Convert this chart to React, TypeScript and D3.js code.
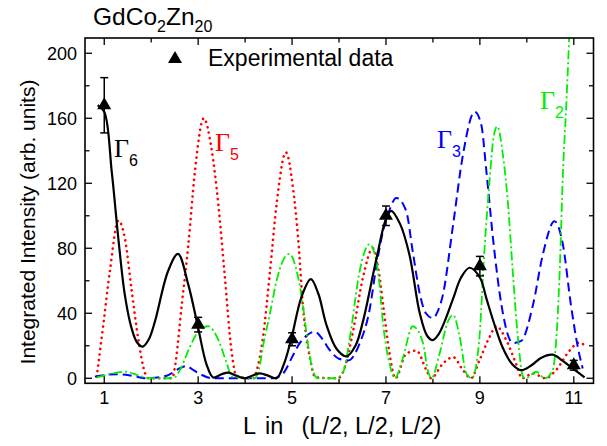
import React from 'react';
import * as d3 from 'd3';

// sample points: [L, intensity]
const gamma6: Array<[number, number]> = [
  [0.86, 168], [1.0, 164], [1.16, 127], [1.3, 86], [1.44, 51], [1.58, 31], [1.7, 22],
  [1.82, 19.5], [1.95, 24], [2.08, 35], [2.36, 66], [2.57, 76.5], [2.79, 57.6], [3.0, 31],
  [3.18, 8.4], [3.32, 0.5], [3.5, 2.5], [3.64, 3.5], [3.82, 1.5], [3.99, 0], [4.15, 1.5],
  [4.31, 3], [4.5, 1.5], [4.67, 0], [4.83, 9], [4.99, 25], [5.2, 50], [5.4, 61],
  [5.56, 52], [5.73, 33], [5.95, 18], [6.16, 13.5], [6.35, 20], [6.51, 35], [6.8, 74],
  [7.0, 98], [7.11, 103], [7.3, 95], [7.5, 76], [7.72, 40], [7.88, 26], [8.0, 23.5],
  [8.12, 27], [8.25, 35], [8.43, 49], [8.6, 62], [8.78, 68], [9.0, 62], [9.14, 49],
  [9.3, 34], [9.49, 18.6], [9.68, 9], [9.88, 5], [10.1, 8], [10.3, 12.5], [10.55, 14.5],
  [10.75, 11], [10.98, 6], [11.23, 0.5],
];

const gamma5: Array<[number, number]> = [
  [0.84, 1], [0.98, 33], [1.12, 66], [1.3, 97], [1.44, 86], [1.58, 55], [1.72, 25],
  [1.87, 3], [1.95, 0], [2.45, 0], [2.5, 6], [2.65, 45], [2.79, 82], [2.93, 127],
  [3.12, 160], [3.28, 142], [3.43, 107], [3.57, 62], [3.71, 17], [3.82, 1], [4.18, 0],
  [4.24, 4], [4.38, 25], [4.53, 66], [4.67, 107], [4.87, 139], [5.02, 117], [5.13, 86],
  [5.23, 45], [5.38, 12.5], [5.5, 0.5], [5.97, 0], [6.09, 4], [6.3, 29], [6.51, 62],
  [6.72, 80], [6.85, 65], [6.94, 45], [7.08, 14.5], [7.2, 0], [7.43, 15], [7.65, 17],
  [7.86, 5], [7.96, 0], [8.21, 9], [8.43, 13], [8.64, 5], [8.81, 0], [8.99, 11],
  [9.21, 25.6], [9.35, 32], [9.56, 23.6], [9.77, 9], [9.9, 0], [10.13, 3], [10.4, 0],
  [10.62, 5], [10.91, 17], [11.12, 22], [11.27, 19],
];

const gamma3: Array<[number, number]> = [
  [0.8, 1], [1.26, 2.5], [1.6, 1.5], [1.9, 0], [2.33, 1.6], [2.6, 6], [2.75, 7.5],
  [2.9, 5], [3.04, 2.6], [3.3, 0], [4.6, 0], [4.81, 3], [5.0, 13], [5.16, 21.5],
  [5.3, 26], [5.48, 28.7], [5.65, 24], [5.8, 17.4], [6.0, 12], [6.2, 11], [6.44, 21.5],
  [6.65, 42], [6.8, 70], [6.95, 92], [7.08, 104], [7.22, 111], [7.43, 103], [7.57, 78],
  [7.72, 52], [7.85, 40], [8.0, 37], [8.1, 41], [8.21, 51], [8.43, 94.5], [8.64, 137.6],
  [8.89, 164], [9.03, 156], [9.14, 127], [9.28, 86], [9.46, 45], [9.7, 21.7], [9.88, 23],
  [10.13, 45], [10.34, 76], [10.59, 96.6], [10.77, 82], [10.94, 45], [11.09, 18.6], [11.19, 6],
];

const gamma2: Array<[number, number]> = [
  [0.84, 0.5], [1.1, 2.5], [1.46, 4], [1.7, 2], [1.96, 0], [2.47, 0], [2.61, 5],
  [2.82, 19], [3.0, 28.7], [3.21, 32], [3.43, 23.6], [3.6, 10], [3.72, 1], [4.2, 0],
  [4.3, 6], [4.38, 19.5], [4.53, 40], [4.67, 60], [4.8, 72], [4.94, 76.5], [5.13, 62],
  [5.23, 45], [5.34, 20.7], [5.45, 4], [5.55, 0], [5.92, 0], [6.09, 4], [6.23, 24.8],
  [6.44, 66], [6.65, 82.6], [6.83, 66], [6.94, 33], [7.08, 8.4], [7.19, 0], [7.36, 12.5],
  [7.57, 32], [7.79, 21.5], [7.89, 5], [7.97, 0], [8.14, 15], [8.32, 35], [8.43, 39],
  [8.57, 25.6], [8.71, 3], [8.83, 0], [8.98, 21.5], [9.1, 80], [9.21, 123], [9.29, 148],
  [9.37, 155], [9.49, 137.6], [9.6, 107], [9.7, 66], [9.81, 25], [9.92, 1], [9.97, 0],
  [10.2, 4], [10.38, 0], [10.55, 5], [10.62, 21], [10.7, 66], [10.77, 127], [10.84, 168],
  [10.91, 215],
];

const expL = [1, 3, 5, 7, 9, 11];
const expI = [168, 33, 24, 100, 69, 8];
const expErr = [17, 4.5, 4, 6, 6, 3];

const xTicks = [1, 2, 3, 4, 5, 6, 7, 8, 9, 10, 11];
const xLabels = [1, 3, 5, 7, 9, 11];
const yTicks = [0, 20, 40, 60, 80, 100, 120, 140, 160, 180, 200];
const yLabels = [0, 40, 80, 120, 160, 200];

const W = 607;
const H = 446;
const left = 85;
const right = 593.5;
const top = 38;
const bottom = 383.3;

const sans = '"Liberation Sans", Arial, sans-serif';
const serif = '"Liberation Serif", "Times New Roman", serif';

export default function App() {
  const x = d3.scaleLinear().domain([0.59, 11.42]).range([left, right]);
  const y = d3.scaleLinear().domain([-3.1, 209.4]).range([bottom, top]);

  const line = d3
    .line<[number, number]>()
    .x((d) => x(d[0]))
    .y((d) => y(d[1]))
    .curve(d3.curveMonotoneX);

  // smoother spline for the fitted black curve
  const smooth = d3
    .line<[number, number]>()
    .x((d) => x(d[0]))
    .y((d) => y(d[1]))
    .curve(d3.curveCatmullRom.alpha(0.5));

  const tri = d3.symbol().type(d3.symbolTriangle).size(85)();

  return (
    <svg width={W} height={H} style={{ position: 'absolute', left: 0, top: 0 }}>
      <defs>
        <clipPath id="plot">
          <rect x={left} y={top} width={right - left} height={bottom - top} />
        </clipPath>
      </defs>

      {/* title */}
      <text x={93} y={25} fontFamily={sans} fontSize={24.5} fill="#000">
        GdCo
        <tspan fontSize={16} dy={7}>2</tspan>
        <tspan dy={-7}>Zn</tspan>
        <tspan fontSize={16} dy={7}>20</tspan>
      </text>

      {/* curves */}
      <g clipPath="url(#plot)" fill="none">
        <path d={line(gamma5) || ''} stroke="#ff0000" strokeWidth={2.6} strokeDasharray="0.1 5.5" strokeLinecap="round" />
        <path d={line(gamma3) || ''} stroke="#0000ff" strokeWidth={2} strokeDasharray="9 5" />
        <path d={line(gamma2) || ''} stroke="#00ee00" strokeWidth={1.8} strokeDasharray="9 3 2 3" />
        <path d={smooth(gamma6) || ''} stroke="#000" strokeWidth={2.2} />
      </g>

      {/* experimental points */}
      {expL.map((L, i) => (
        <g key={L}>
          <line x1={x(L)} x2={x(L)} y1={y(expI[i] - expErr[i])} y2={y(expI[i] + expErr[i])} stroke="#000" strokeWidth={1.5} />
          <line x1={x(L) - 4} x2={x(L) + 4} y1={y(expI[i] + expErr[i])} y2={y(expI[i] + expErr[i])} stroke="#000" strokeWidth={1.5} />
          <line x1={x(L) - 4} x2={x(L) + 4} y1={y(expI[i] - expErr[i])} y2={y(expI[i] - expErr[i])} stroke="#000" strokeWidth={1.5} />
          <path d={tri || ''} transform={`translate(${x(L)},${y(expI[i])})`} fill="#000" />
        </g>
      ))}

      {/* legend */}
      <path d={tri || ''} transform="translate(175,59)" fill="#000" />
      <text x={208} y={66} fontFamily={sans} fontSize={23} fill="#000">
        Experimental data
      </text>

      {/* curve labels */}
      <text x={114} y={157} fontFamily={serif} fontSize={26} fill="#000">
        Γ<tspan fontFamily={sans} fontSize={16} dy={9}>6</tspan>
      </text>
      <text x={215} y={151} fontFamily={serif} fontSize={26} fill="#ff0000">
        Γ<tspan fontFamily={sans} fontSize={16} dy={9}>5</tspan>
      </text>
      <text x={437} y={148} fontFamily={serif} fontSize={26} fill="#0000ff">
        Γ<tspan fontFamily={sans} fontSize={16} dy={9}>3</tspan>
      </text>
      <text x={540} y={109} fontFamily={serif} fontSize={26} fill="#00ee00">
        Γ<tspan fontFamily={sans} fontSize={16} dy={9}>2</tspan>
      </text>

      {/* frame */}
      <rect x={left} y={top} width={right - left} height={bottom - top} fill="none" stroke="#000" strokeWidth={1.6} />

      {/* ticks, pointing inward on all four sides */}
      {xTicks.map((t) => {
        const len = xLabels.includes(t) ? 7 : 4.5;
        return (
          <g key={'x' + t} stroke="#000" strokeWidth={1.3}>
            <line x1={x(t)} x2={x(t)} y1={bottom} y2={bottom - len} />
            <line x1={x(t)} x2={x(t)} y1={top} y2={top + len} />
          </g>
        );
      })}
      {yTicks.map((t) => {
        const len = yLabels.includes(t) ? 7 : 4.5;
        return (
          <g key={'y' + t} stroke="#000" strokeWidth={1.3}>
            <line x1={left} x2={left + len} y1={y(t)} y2={y(t)} />
            <line x1={right} x2={right - len} y1={y(t)} y2={y(t)} />
          </g>
        );
      })}

      {xLabels.map((t) => (
        <text key={'xl' + t} x={x(t)} y={404} textAnchor="middle" fontFamily={sans} fontSize={18} fill="#000">
          {t}
        </text>
      ))}
      {yLabels.map((t) => (
        <text key={'yl' + t} x={77} y={y(t) + 6.3} textAnchor="end" fontFamily={sans} fontSize={18} fill="#000">
          {t}
        </text>
      ))}

      {/* axis titles */}
      <text
        transform="translate(35,222) rotate(-90)"
        textAnchor="middle"
        fontFamily={sans}
        fontSize={21}
        fill="#000"
      >
        Integrated Intensity (arb. units)
      </text>
      <text y={434} fontFamily={sans} fontSize={23.5} fill="#000">
        <tspan x={243}>L</tspan>
        <tspan x={265}>in</tspan>
        <tspan x={301.5}>(L/2, L/2, L/2)</tspan>
      </text>
    </svg>
  );
}
